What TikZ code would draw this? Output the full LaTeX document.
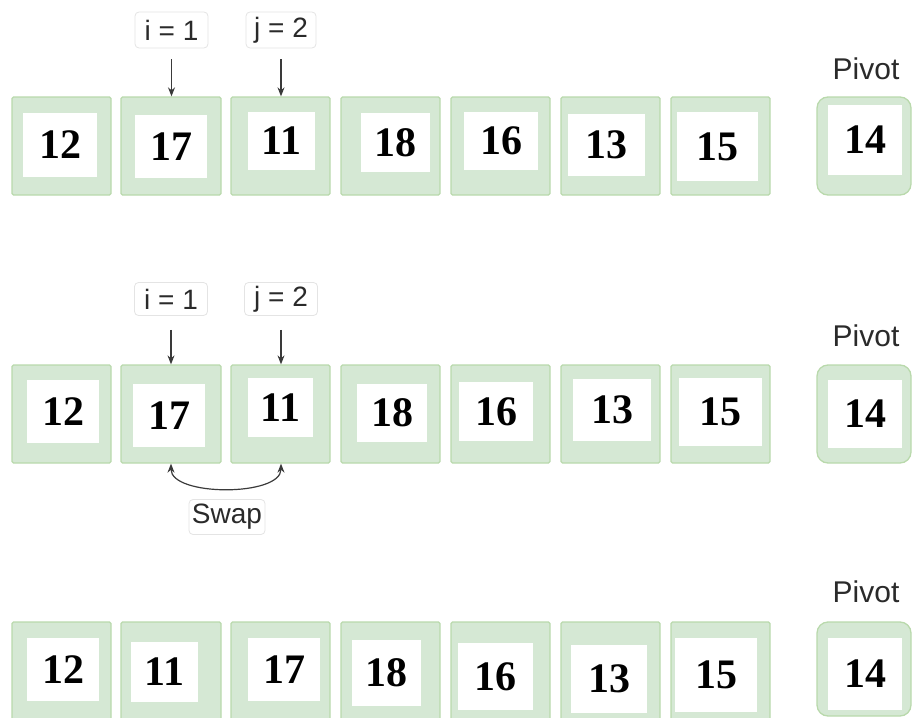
\documentclass[tikz,border=0pt]{standalone}
\usepackage{fontspec}
\setmainfont{Liberation Serif}
\newfontfamily\lblfont{Liberation Sans}
\usetikzlibrary{arrows.meta,calc}
\definecolor{boxfill}{HTML}{D5E8D4}
\definecolor{boxline}{HTML}{B9D9AC}
\definecolor{lblline}{HTML}{E4E4E4}
\definecolor{arrowc}{HTML}{3A3A3A}
\definecolor{txtc}{HTML}{2A2A2A}
\tikzset{
  x=1pt, y=-1pt,
  outerbox/.style={draw=boxline, fill=boxfill, line width=1.3pt, rounded corners=1.5pt, inner sep=0pt},
  pivotbox/.style={draw=boxline, fill=boxfill, line width=1.3pt, rounded corners=11pt, inner sep=0pt},
  innerbox/.style={fill=white, inner sep=0pt, font=\fontsize{42}{42}\selectfont\bfseries},
  lbl/.style={draw=lblline, fill=white, rounded corners=4pt, line width=0.8pt, inner sep=0pt, font=\lblfont\fontsize{28}{28}\selectfont, text=txtc},
  pivlbl/.style={inner sep=0pt, font=\lblfont\fontsize{30}{30}\selectfont, text=txtc},
  ptr/.style={draw=arrowc, line width=1.2pt, -{Stealth[length=9pt,width=7pt]}},
}
\begin{document}
\begin{tikzpicture}
\useasboundingbox (0,0) rectangle (912,717);
\clip (0,0) rectangle (912,717);
% ---------- helper macros ----------
\def\OB#1#2#3#4#5{\node[outerbox, minimum width={#4-#2}, minimum height={#5-#3}] (#1) at ({(#2+#4)/2},{(#3+#5)/2}) {};}
\def\PB#1#2#3#4#5{\node[pivotbox, minimum width={#4-#2}, minimum height={#5-#3}] (#1) at ({(#2+#4)/2},{(#3+#5)/2}) {};}
\def\IB#1#2#3#4#5#6{\node[innerbox, minimum width={#4-#2}, minimum height={#5-#3}] (#1) at ({(#2+#4)/2},{(#3+#5)/2}) {#6};}
% ---------- Row 1 ----------
\OB{a1}{12}{97}{111}{195}
\OB{a2}{121}{97}{221}{195}
\OB{a3}{231}{97}{330}{195}
\OB{a4}{341}{97}{440}{195}
\OB{a5}{451}{97}{550}{195}
\OB{a6}{561}{97}{660}{195}
\OB{a7}{671}{97}{770}{195}
\PB{ap}{817}{97}{911}{195}
\IB{ai1}{23}{113}{97}{177}{12}
\IB{ai2}{135}{115}{207}{178}{17}
\IB{ai3}{248}{112}{315}{170}{11}
\IB{ai4}{361}{113}{430}{172}{18}
\IB{ai5}{464}{112}{538}{170}{16}
\IB{ai6}{568}{114}{645}{176}{13}
\IB{ai7}{677}{112}{758}{181}{15}
\IB{aip}{828}{105}{902}{175}{14}
\node[pivlbl] (apl) at (866,69) {Pivot};
\node[lbl, minimum width=73, minimum height=36] (ali) at (171.5,30) {i = 1};
\node[lbl, minimum width=70, minimum height=36] (alj) at (281,30) {j = 2};
\draw[ptr, shorten <=11pt] (ali.south) -- (ali.south |- a2.north);
\draw[ptr, shorten <=11pt] (alj.south) -- (alj.south |- a3.north);
% ---------- Row 2 ----------
\OB{b1}{12}{365}{111}{463}
\OB{b2}{121}{365}{221}{463}
\OB{b3}{231}{365}{330}{463}
\OB{b4}{341}{365}{440}{463}
\OB{b5}{451}{365}{550}{463}
\OB{b6}{561}{365}{660}{463}
\OB{b7}{671}{365}{770}{463}
\PB{bp}{817}{365}{911}{463}
\IB{bi1}{27}{380}{99}{443}{12}
\IB{bi2}{133}{384}{205}{447}{17}
\IB{bi3}{248}{378}{313}{437}{11}
\IB{bi4}{357}{384}{427}{442}{18}
\IB{bi5}{459}{382}{533}{441}{16}
\IB{bi6}{573}{379}{651}{441}{13}
\IB{bi7}{679}{378}{762}{446}{15}
\IB{bip}{828}{380}{902}{448}{14}
\node[pivlbl] (bpl) at (866,336) {Pivot};
\node[lbl, minimum width=73, minimum height=33] (bli) at (171,299) {i = 1};
\node[lbl, minimum width=73, minimum height=33] (blj) at (281,299) {j = 2};
\draw[ptr, shorten <=14pt] (bli.south) -- (bli.south |- b2.north);
\draw[ptr, shorten <=14pt] (blj.south) -- (blj.south |- b3.north);
\coordinate (sw1) at (b2.south);
\coordinate (sw2) at (b3.south -| blj.south);
\draw[draw=arrowc, line width=1.2pt, {Stealth[length=9pt,width=7pt]}-{Stealth[length=9pt,width=7pt]}]
  (sw1) .. controls ($(sw1)+(0,33)$) and ($(sw2)+(0,33)$) .. (sw2);
\node[lbl, minimum width=76, minimum height=35] (swl) at (227,517) {Swap};
% ---------- Row 3 ----------
\OB{c1}{12}{622}{111}{720}
\OB{c2}{121}{622}{221}{720}
\OB{c3}{231}{622}{330}{720}
\OB{c4}{341}{622}{440}{720}
\OB{c5}{451}{622}{550}{720}
\OB{c6}{561}{622}{660}{720}
\OB{c7}{671}{622}{770}{720}
\PB{cp}{817}{622}{911}{716}
\IB{ci1}{27}{638}{99}{701}{12}
\IB{ci2}{131}{642}{198}{702}{11}
\IB{ci3}{248}{638}{320}{701}{17}
\IB{ci4}{352}{640}{421}{706}{18}
\IB{ci5}{458}{643}{533}{710}{16}
\IB{ci6}{571}{645}{647}{713}{13}
\IB{ci7}{675}{638}{757}{712}{15}
\IB{cip}{828}{638}{902}{710}{14}
\node[pivlbl] (cpl) at (866,592) {Pivot};
\end{tikzpicture}
\end{document}
